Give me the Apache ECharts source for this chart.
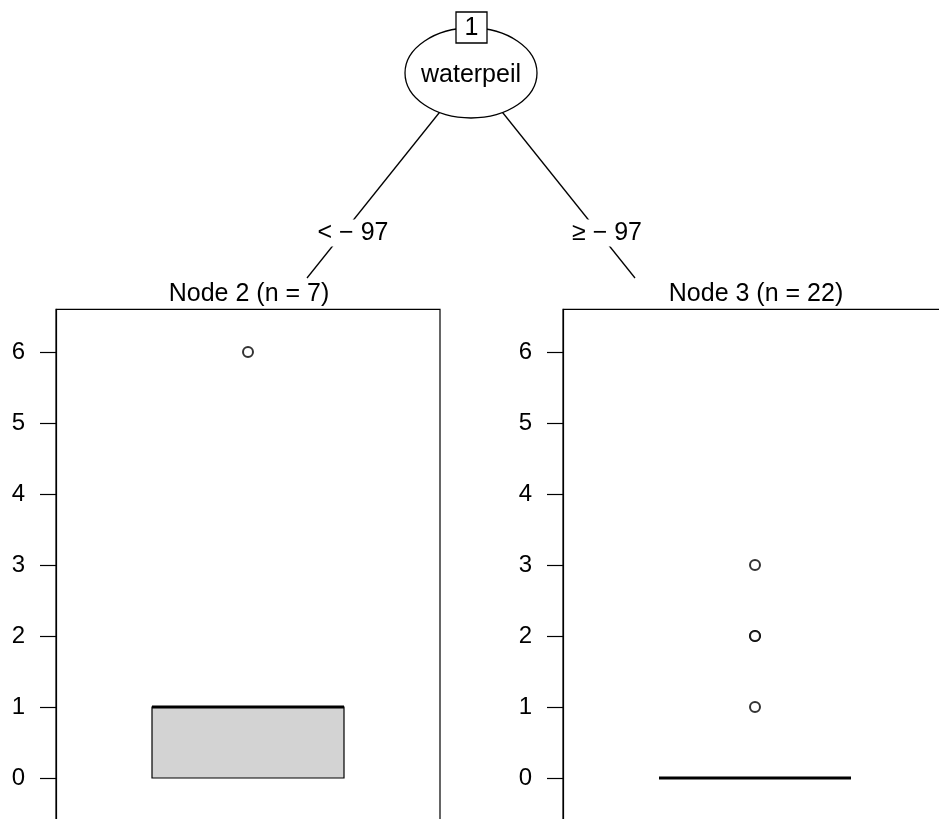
<!DOCTYPE html>
<html>
<head>
<meta charset="utf-8">
<script src="https://cdn.jsdelivr.net/npm/echarts@6/dist/echarts.min.js"></script>
<style>
  html, body { margin: 0; padding: 0; background: #fff; }
  #main { width: 939px; height: 819px; }
</style>
</head>
<body>
<div id="main"></div>
<script>
// tree: one split on waterpeil, two terminal nodes with boxplots
var splitVar = 'waterpeil';
var splitLabels = ['< \u2212 97', '\u2265 \u2212 97'];
var nodeTitles = ['Node 2 (n = 7)', 'Node 3 (n = 22)'];
var yTicks = [0, 1, 2, 3, 4, 5, 6];
// [x, min, q1, median, q3, max]
var box2 = [0.5, 0, 0, 1, 1, 1];
var box3 = [0.5, 0, 0, 0, 0, 0];
var outliers2 = [6];
var outliers3 = [1, 2, 2, 3];

var FONT = '"Liberation Sans", Arial, sans-serif';
var dom = document.getElementById('main');
var myChart = echarts.init(dom, null, {renderer: 'canvas'});

function renderBox(params, api) {
    var x = api.value(0), lo = api.value(1), q1 = api.value(2),
        med = api.value(3), q3 = api.value(4), hi = api.value(5);
    var a = api.coord([x - 0.25, q3]), b = api.coord([x + 0.25, q1]);
    var m1 = api.coord([x - 0.25, med]), m2 = api.coord([x + 0.25, med]);
    var kids = [];
    var dashed = {stroke: '#000', lineWidth: 1, lineDash: [4, 4]};
    var thin = {stroke: '#000', lineWidth: 1};
    // whiskers only when they stick out of the box
    if (hi > q3) {
        var w1 = api.coord([x, q3]), w2 = api.coord([x, hi]);
        var c1 = api.coord([x - 0.125, hi]), c2 = api.coord([x + 0.125, hi]);
        kids.push({type: 'line', shape: {x1: w1[0], y1: w1[1], x2: w2[0], y2: w2[1]}, style: dashed});
        kids.push({type: 'line', shape: {x1: c1[0], y1: c1[1], x2: c2[0], y2: c2[1]}, style: thin});
    }
    if (lo < q1) {
        var w3 = api.coord([x, q1]), w4 = api.coord([x, lo]);
        var c3 = api.coord([x - 0.125, lo]), c4 = api.coord([x + 0.125, lo]);
        kids.push({type: 'line', shape: {x1: w3[0], y1: w3[1], x2: w4[0], y2: w4[1]}, style: dashed});
        kids.push({type: 'line', shape: {x1: c3[0], y1: c3[1], x2: c4[0], y2: c4[1]}, style: thin});
    }
    kids.push({type: 'rect', shape: {x: a[0], y: a[1], width: b[0] - a[0], height: b[1] - a[1]},
        style: {fill: '#D3D3D3', stroke: '#000', lineWidth: 1.2}});
    kids.push({type: 'line', shape: {x1: m1[0], y1: m1[1], x2: m2[0], y2: m2[1]}, style: {stroke: '#000', lineWidth: 3.2}});
    return {type: 'group', children: kids};
}

function yAxisFor(i) {
    return {
        gridIndex: i,
        type: 'value',
        min: -0.6,
        max: 6.6,
        axisLine: {show: true, lineStyle: {color: '#000', width: 1.2}},
        axisTick: {show: true, length: 16, customValues: yTicks, lineStyle: {color: '#000', width: 1.2}},
        axisLabel: {show: true, margin: 31, customValues: yTicks, color: '#000', fontSize: 24, fontFamily: FONT},
        splitLine: {show: false}
    };
}

function xAxisFor(i) {
    return {gridIndex: i, type: 'value', min: 0, max: 1, show: false};
}

function label(text, cx, cy, size, bg) {
    return {
        type: 'text', x: cx, y: cy, z: 10,
        style: {text: text, fontSize: size, fontFamily: FONT, fill: '#000',
            align: 'center', verticalAlign: 'middle', backgroundColor: bg ? '#fff' : null, padding: [1, 3]}
    };
}

var edge = {stroke: '#000', lineWidth: 1.3};

var option = {
    backgroundColor: '#fff',
    animation: false,
    grid: [
        {left: 56, top: 309.4, width: 384, height: 511.2, outerBoundsMode: 'none', show: true, borderColor: '#000', borderWidth: 1.2},
        {left: 563, top: 309.4, width: 384, height: 511.2, outerBoundsMode: 'none', show: true, borderColor: '#000', borderWidth: 1.2}
    ],
    xAxis: [xAxisFor(0), xAxisFor(1)],
    yAxis: [yAxisFor(0), yAxisFor(1)],
    series: [
        {type: 'custom', xAxisIndex: 0, yAxisIndex: 0, renderItem: renderBox, data: [box2], clip: false},
        {type: 'custom', xAxisIndex: 1, yAxisIndex: 1, renderItem: renderBox, data: [box3], clip: false},
        {type: 'scatter', xAxisIndex: 0, yAxisIndex: 0, symbol: 'emptyCircle', symbolSize: 10,
            itemStyle: {color: '#000', borderColor: '#000', borderWidth: 1.6},
            data: outliers2.map(function (v) { return [0.5, v]; })},
        {type: 'scatter', xAxisIndex: 1, yAxisIndex: 1, symbol: 'emptyCircle', symbolSize: 10,
            itemStyle: {color: '#000', borderColor: '#000', borderWidth: 1.6},
            data: outliers3.map(function (v) { return [0.5, v]; })}
    ],
    graphic: [
        {type: 'line', shape: {x1: 471, y1: 73, x2: 307, y2: 278}, style: edge},
        {type: 'line', shape: {x1: 471, y1: 73, x2: 635, y2: 278}, style: edge},
        {type: 'ellipse', shape: {cx: 471, cy: 73, rx: 66, ry: 45}, style: {fill: '#fff', stroke: '#000', lineWidth: 1.3}, z: 5},
        {type: 'rect', shape: {x: 456, y: 12, width: 31, height: 31}, style: {fill: '#fff', stroke: '#000', lineWidth: 1.3}, z: 6},
        {type: 'text', x: 471.5, y: 28, z: 7, style: {text: '1', fontSize: 25, fontFamily: FONT, fill: '#000', align: 'center', verticalAlign: 'middle'}},
        {type: 'text', x: 471, y: 75, z: 7, style: {text: splitVar, fontSize: 25, fontFamily: FONT, fill: '#000', align: 'center', verticalAlign: 'middle'}},
        label(splitLabels[0], 353, 233, 25, true),
        label(splitLabels[1], 607, 233, 25, true),
        label(nodeTitles[0], 249, 294, 25, false),
        label(nodeTitles[1], 756, 294, 25, false)
    ]
};

myChart.setOption(option);
window.onresize = function () {
    myChart.resize();
};
</script>
</body>
</html>
